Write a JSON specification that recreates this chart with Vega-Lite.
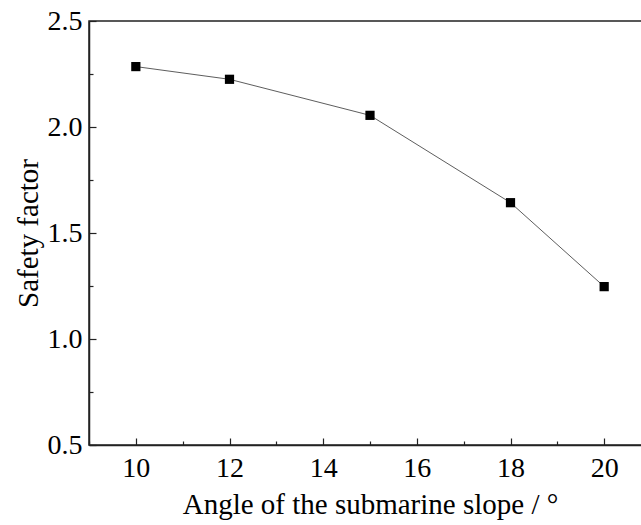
{
  "$schema": "https://vega.github.io/schema/vega-lite/v6.json",
  "width": 562,
  "height": 424,
  "autosize": {"type": "none"},
  "padding": {"left": 89, "top": 21, "right": 0, "bottom": 80},
  "background": "white",
  "config": {
    "view": {"stroke": "#222", "strokeWidth": 1.5},
    "font": "Liberation Serif",
    "axis": {
      "domainColor": "#222",
      "domainWidth": 1.5,
      "tickColor": "#222",
      "tickWidth": 1.2,
      "grid": false,
      "labelFont": "Liberation Serif",
      "titleFont": "Liberation Serif",
      "labelFontSize": 28,
      "titleFontSize": 29,
      "titleFontWeight": "normal",
      "labelColor": "black",
      "titleColor": "black"
    }
  },
  "data": {
    "values": [
      {"angle": 10, "sf": 2.285},
      {"angle": 12, "sf": 2.225},
      {"angle": 15, "sf": 2.055},
      {"angle": 18, "sf": 1.643},
      {"angle": 20, "sf": 1.247}
    ]
  },
  "encoding": {
    "x": {
      "field": "angle",
      "type": "quantitative",
      "scale": {"domain": [9, 21], "nice": false},
      "axis": {
        "title": "Angle of the submarine slope / °",
        "values": [9, 10, 11, 12, 13, 14, 15, 16, 17, 18, 19, 20, 21],
        "labelExpr": "datum.value % 2 == 0 ? datum.label : ''",
        "tickSize": {"condition": {"test": "datum.value % 2 == 0", "value": -7}, "value": -4},
        "labelPadding": 16,
        "titlePadding": 8
      }
    },
    "y": {
      "field": "sf",
      "type": "quantitative",
      "scale": {"domain": [0.5, 2.5], "nice": false, "zero": false},
      "axis": {
        "title": "Safety factor",
        "values": [0.5, 0.75, 1.0, 1.25, 1.5, 1.75, 2.0, 2.25, 2.5],
        "labelExpr": "(datum.value * 4) % 2 == 0 ? format(datum.value, '.1f') : ''",
        "tickSize": {"condition": {"test": "(datum.value * 4) % 2 == 0", "value": -7}, "value": -4},
        "labelPadding": 14,
        "titlePadding": 4
      }
    }
  },
  "layer": [
    {"mark": {"type": "line", "color": "#333", "strokeWidth": 0.8}},
    {"mark": {"type": "square", "color": "black", "opacity": 1, "size": 85, "filled": true}}
  ]
}
